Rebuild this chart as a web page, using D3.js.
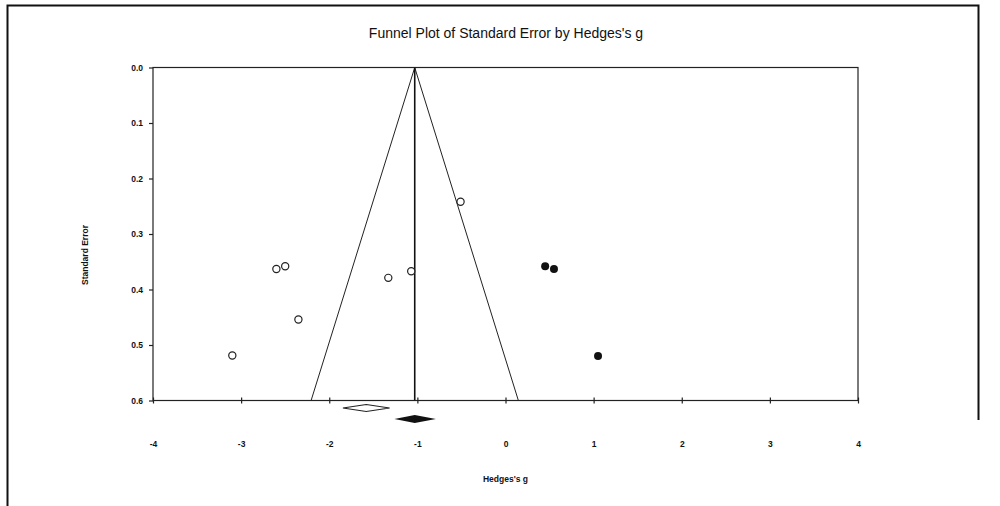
<!DOCTYPE html>
<html>
<head>
<meta charset="utf-8">
<script src="https://cdn.jsdelivr.net/npm/d3@7"></script>
<style>
  body { margin: 0; background: #fff; }
  text { font-family: "Liberation Sans", Arial, sans-serif; fill: #111; }
</style>
</head>
<body>
<div id="chart"></div>
<script>
// observed studies (open circles)
var observedG  = [-3.10, -2.60, -2.50, -2.35, -1.33, -1.07, -0.51];
var observedSE = [0.519, 0.363, 0.358, 0.454, 0.379, 0.367, 0.242];
// imputed studies (filled circles)
var imputedG  = [0.45, 0.55, 1.05];
var imputedSE = [0.358, 0.363, 0.520];
// summary estimates
var observedMean = -1.58, observedCI = [-1.845, -1.315];
var adjustedMean = -1.03, adjustedCI = [-1.26, -0.79];
var xTicks = [-4, -3, -2, -1, 0, 1, 2, 3, 4];
var yTicks = [0.0, 0.1, 0.2, 0.3, 0.4, 0.5, 0.6];

var svgWidth = 1000;
var svgHeight = 506;

var svg = d3.select("#chart")
  .append("svg")
  .attr("width", svgWidth)
  .attr("height", svgHeight);

// page frame
svg.append("path")
  .attr("d", "M7.5,506 L7.5,5.5 L978.5,5.5 L978.5,420")
  .attr("fill", "none")
  .attr("stroke", "#111")
  .attr("stroke-width", 2);

var x = d3.scaleLinear().domain([-4, 4]).range([153, 858]);
var y = d3.scaleLinear().domain([0, 0.6]).range([67.5, 400.5]);

// plot box
svg.append("rect")
  .attr("x", x(-4))
  .attr("y", y(0))
  .attr("width", x(4) - x(-4))
  .attr("height", y(0.6) - y(0))
  .attr("fill", "none")
  .attr("stroke", "#222")
  .attr("stroke-width", 1.2);

// axes
var bottomAxis = d3.axisBottom(x).tickValues(xTicks).tickSize(0).tickPadding(0)
  .tickFormat(d => String(d));
var xAxisG = svg.append("g")
  .attr("transform", `translate(0, ${y(0.6)})`)
  .call(bottomAxis);
xAxisG.select(".domain").remove();
xAxisG.selectAll(".tick line").remove();
xAxisG.selectAll(".tick").append("line")
  .attr("y1", -3).attr("y2", 3)
  .attr("stroke", "#222").attr("stroke-width", 1.2);
xAxisG.selectAll(".tick text")
  .attr("y", 40)
  .style("font-size", "8.5px")
  .style("font-weight", "bold");

var leftAxis = d3.axisLeft(y).tickValues(yTicks).tickSize(4).tickPadding(6).tickFormat(d3.format(".1f"));
var yAxisG = svg.append("g")
  .attr("transform", `translate(${x(-4)}, 0)`)
  .call(leftAxis);
yAxisG.select(".domain").remove();
yAxisG.selectAll(".tick line").attr("stroke", "#222").attr("stroke-width", 1.2);
yAxisG.selectAll(".tick text")
  .style("font-size", "8.5px")
  .style("font-weight", "bold");

// funnel
svg.append("clipPath").attr("id", "plotClip")
  .append("rect")
  .attr("x", x(-4)).attr("y", y(0))
  .attr("width", x(4) - x(-4)).attr("height", y(0.6) - y(0));

var funnel = svg.append("g").attr("clip-path", "url(#plotClip)");
var seMax = 0.6;
var line = d3.line().x(d => x(d[0])).y(d => y(d[1]));
funnel.append("path")
  .attr("d", line([[adjustedMean - 1.96 * seMax, seMax], [adjustedMean, 0], [adjustedMean + 1.96 * seMax, seMax]]))
  .attr("fill", "none")
  .attr("stroke", "#222")
  .attr("stroke-width", 1);
funnel.append("path")
  .attr("d", line([[adjustedMean, 0], [adjustedMean, seMax]]))
  .attr("fill", "none")
  .attr("stroke", "#111")
  .attr("stroke-width", 1.6);

// points
var observed = observedG.map((g, i) => ({g: g, se: observedSE[i]}));
var imputed = imputedG.map((g, i) => ({g: g, se: imputedSE[i]}));

svg.append("g").selectAll("circle")
  .data(observed)
  .enter()
  .append("circle")
  .attr("cx", d => x(d.g))
  .attr("cy", d => y(d.se))
  .attr("r", 3.6)
  .attr("fill", "#fff")
  .attr("stroke", "#222")
  .attr("stroke-width", 1.2);

svg.append("g").selectAll("circle")
  .data(imputed)
  .enter()
  .append("circle")
  .attr("cx", d => x(d.g))
  .attr("cy", d => y(d.se))
  .attr("r", 4)
  .attr("fill", "#111");

// summary diamonds below the axis
function diamond(lo, mid, hi, cy, h) {
  return `M${x(lo)},${cy} L${x(mid)},${cy - h} L${x(hi)},${cy} L${x(mid)},${cy + h} Z`;
}
svg.append("path")
  .attr("d", diamond(observedCI[0], observedMean, observedCI[1], y(0.6) + 7.5, 3.5))
  .attr("fill", "#fff")
  .attr("stroke", "#222")
  .attr("stroke-width", 1.2);
svg.append("path")
  .attr("d", diamond(adjustedCI[0], adjustedMean, adjustedCI[1], y(0.6) + 18.5, 4))
  .attr("fill", "#111");

// titles
svg.append("text")
  .attr("x", 506)
  .attr("y", 38)
  .attr("text-anchor", "middle")
  .style("font-size", "14px")
  .text("Funnel Plot of Standard Error by Hedges's g");

svg.append("text")
  .attr("x", x(0))
  .attr("y", 482)
  .attr("text-anchor", "middle")
  .style("font-size", "8.5px")
  .style("font-weight", "bold")
  .text("Hedges's g");

svg.append("text")
  .attr("transform", `translate(88, 255) rotate(-90)`)
  .attr("text-anchor", "middle")
  .style("font-size", "8.5px")
  .style("font-weight", "bold")
  .text("Standard Error");
</script>
</body>
</html>
